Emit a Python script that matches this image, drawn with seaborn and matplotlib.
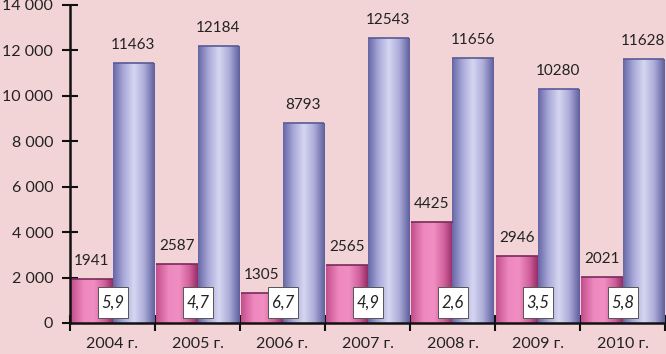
import numpy as np
import pandas as pd
import matplotlib
matplotlib.use("Agg")
import matplotlib.pyplot as plt
from matplotlib.colors import LinearSegmentedColormap
from matplotlib.ticker import FuncFormatter, MultipleLocator
from matplotlib.patches import Rectangle
import seaborn as sns

years = ["2004 г.", "2005 г.", "2006 г.", "2007 г.", "2008 г.", "2009 г.", "2010 г."]
series_a = [1941, 2587, 1305, 2565, 4425, 2946, 2021]
series_b = [11463, 12184, 8793, 12543, 11656, 10280, 11628]
box_labels = ["5,9", "4,7", "6,7", "4,9", "2,6", "3,5", "5,8"]

sns.set_theme(style="white")
plt.rcParams["font.family"] = ["Lato", "Open Sans", "DejaVu Sans"]

bg = "#F2D4D6"
df = pd.DataFrame({
    "year": years * 2,
    "value": series_a + series_b,
    "series": ["a"] * len(years) + ["b"] * len(years),
})

fig = plt.figure(figsize=(6.66, 3.54), dpi=100, facecolor=bg)
ax = fig.add_axes([70 / 666, 1 - 323 / 354, (665 - 70) / 666, (323 - 5) / 354])
ax.set_facecolor(bg)

sns.barplot(data=df, x="year", y="value", hue="series", order=years,
            hue_order=["a", "b"], palette=["#E070A8", "#A0A0D0"],
            width=0.97, gap=0, legend=False, ax=ax, edgecolor="none")

ax.set_xlim(-0.5, len(years) - 0.5)
ax.set_ylim(0, 14000)

pink_cmap = LinearSegmentedColormap.from_list(
    "p", [(0, "#C24E8C"), (0.3, "#EE88BE"), (0.55, "#F08EC2"), (0.8, "#D0609C"), (1, "#962C66")])
blue_cmap = LinearSegmentedColormap.from_list(
    "b", [(0, "#6666A6"), (0.25, "#A8A8D8"), (0.5, "#D6D6F2"), (0.75, "#ABABD8"), (1, "#5E5E9E")])

grad = np.linspace(0, 1, 256).reshape(1, -1)
patches = list(ax.patches)
n = len(years)
for i, p in enumerate(patches):
    cmap = pink_cmap if i < n else blue_cmap
    x0, y0 = p.get_x(), p.get_y()
    w, h = p.get_width(), p.get_height()
    im = ax.imshow(grad, cmap=cmap, aspect="auto",
                   extent=[x0, x0 + w, y0, y0 + h], zorder=p.get_zorder() + 0.1,
                   interpolation="bilinear")
    im.set_clip_path(p)
    ax.plot([x0, x0 + w], [y0 + h, y0 + h], color="#7A2A5C" if i < n else "#5A5A96",
            lw=1.2, zorder=p.get_zorder() + 0.2, solid_capstyle="butt")
    val = series_a[i] if i < n else series_b[i - n]
    ax.annotate(f"{val}", (x0 + w / 2, y0 + h), xytext=(0, 8),
                textcoords="offset points", ha="center", va="bottom",
                fontsize=11, color="#222222", zorder=5)

ax.set_xlim(-0.5, len(years) - 0.5)
ax.set_ylim(0, 14000)

box_w, box_h, box_y0 = 0.355, 1360, 220
for i, lab in enumerate(box_labels):
    ax.add_patch(Rectangle((i + 0.005 - box_w / 2, box_y0), box_w, box_h,
                           facecolor="white", edgecolor="#555555", linewidth=0.7, zorder=6))
    ax.text(i + 0.005, box_y0 + box_h / 2, lab, ha="center", va="center", fontsize=12,
            style="italic", color="#222222", zorder=6.5)

ax.yaxis.set_major_locator(MultipleLocator(2000))
ax.yaxis.set_major_formatter(FuncFormatter(lambda v, _: f"{int(v):,}".replace(",", " ")))
ax.tick_params(axis="y", which="major", direction="inout", length=12, width=1.5,
               color="#111111", labelsize=11.5, pad=6, left=True, labelcolor="#222222")

ax.set_xticks(range(n))
ax.set_xticklabels(years)
ax.set_xticks(np.arange(-0.5, n, 1.0), minor=True)
ax.tick_params(axis="x", which="major", length=0, labelsize=11.5, pad=10, labelcolor="#222222")
ax.tick_params(axis="x", which="minor", direction="inout", length=12, width=1.5,
               color="#111111", bottom=True)

for s in ["top", "right"]:
    ax.spines[s].set_visible(False)
for s in ["left", "bottom"]:
    ax.spines[s].set_visible(True)
    ax.spines[s].set_color("#111111")
    ax.spines[s].set_linewidth(1.8)
    ax.spines[s].set_zorder(7)

ax.set_xlabel("")
ax.set_ylabel("")
ax.grid(False)

fig.savefig("out.png", dpi=100, facecolor=bg)
